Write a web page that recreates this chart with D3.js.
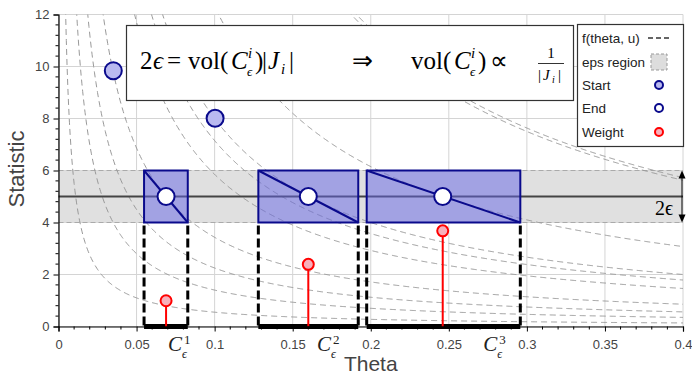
<!DOCTYPE html>
<html><head><meta charset="utf-8">
<script src="https://cdn.jsdelivr.net/npm/d3@7"></script>
<style>body{margin:0;background:#fff}svg{display:block}</style>
</head><body>
<svg id="chart" width="692" height="377"></svg>
<script>
// ---- data ----
const curveU = [0.055, 0.14, 0.225, 0.343, 0.585, 0.715, 0.80, 1.23, 2.25, 2.29]; // f(theta,u)=u/theta
const boxLeft = [0.0548, 0.128, 0.1974];
const boxRight = [0.0828, 0.192, 0.2958];
const endTheta = [0.0689, 0.160, 0.2461];
const endStat = [5, 5, 5];
const startTheta = [0.0351, 0.1003];
const startStat = [9.84, 8.01];
const weights = [0.99, 2.39, 3.68];
const cellLabels = ["1", "2", "3"];
const cellLabelTheta = [0.0702, 0.1655, 0.272];
const epsCenter = 5, epsLow = 4, epsHigh = 6;
const xTicks = [0, 0.05, 0.1, 0.15, 0.2, 0.25, 0.3, 0.35, 0.4];
const xTickLabels = ["0", "0.05", "0.1", "0.15", "0.2", "0.25", "0.3", "0.35", "0.4"];
const yTicks = [0, 2, 4, 6, 8, 10, 12];
const legendLabels = ["f(theta, u)", "eps region", "Start", "End", "Weight"];

// ---- layout ----
const svg = d3.select("#chart");
const X0 = 58.5, X1 = 683, Y0 = 326.5, Y1 = 14.5;
const x = d3.scaleLinear().domain([0, 0.4]).range([X0, X1]);
const y = d3.scaleLinear().domain([0, 12]).range([Y0, Y1]);
const navy = "#0a0a8c", boxFill = "rgb(100,100,230)", lav = "#b9b9f0", pink = "#f7b0bb";

svg.append("defs").append("clipPath").attr("id", "clip")
  .append("rect").attr("x", X0).attr("y", Y1).attr("width", X1 - X0).attr("height", Y0 - Y1);

// gridlines
const grid = svg.append("g").attr("stroke", "#d4d4d4").attr("stroke-width", 1);
xTicks.forEach(t => grid.append("line").attr("x1", x(t)).attr("x2", x(t)).attr("y1", Y1).attr("y2", Y0));
yTicks.forEach(t => grid.append("line").attr("x1", X0).attr("x2", X1).attr("y1", y(t)).attr("y2", y(t)));

// eps band
svg.append("rect").attr("x", X0).attr("width", X1 - X0).attr("y", y(epsHigh)).attr("height", y(epsLow) - y(epsHigh))
  .attr("fill", "#e0e0e0");
[epsLow, epsHigh].forEach(v => svg.append("line").attr("x1", X0).attr("x2", X1).attr("y1", y(v)).attr("y2", y(v))
  .attr("stroke", "#aaa").attr("stroke-width", 1.2).attr("stroke-dasharray", "5,3"));

// curves
const thetaGrid = d3.range(0.002, 0.4005, 0.0005);
const line = d3.line().x(d => x(d[0])).y(d => y(d[1]));
const cg = svg.append("g").attr("clip-path", "url(#clip)");
curveU.forEach(u => {
  const pts = thetaGrid.map(t => [t, u / t]).filter(p => p[1] < 14);
  cg.append("path").attr("d", line(pts)).attr("fill", "none").attr("stroke", "#999")
    .attr("stroke-width", 1).attr("stroke-dasharray", "6,4");
});

// center line
svg.append("line").attr("x1", X0).attr("x2", X1).attr("y1", y(epsCenter)).attr("y2", y(epsCenter))
  .attr("stroke", "#444").attr("stroke-width", 2);

// boxes
boxLeft.forEach((l, i) => {
  const r = boxRight[i];
  svg.append("rect").attr("x", x(l)).attr("y", y(epsHigh)).attr("width", x(r) - x(l)).attr("height", y(epsLow) - y(epsHigh))
    .attr("fill", boxFill).attr("fill-opacity", 0.5).attr("stroke", navy).attr("stroke-width", 2);
  svg.append("line").attr("x1", x(l)).attr("y1", y(epsHigh)).attr("x2", x(r)).attr("y2", y(epsLow))
    .attr("stroke", navy).attr("stroke-width", 2);
  [l, r].forEach(v => svg.append("line").attr("x1", x(v)).attr("x2", x(v)).attr("y1", y(epsLow) + 3).attr("y2", y(0))
    .attr("stroke", "#000").attr("stroke-width", 3).attr("stroke-dasharray", "9,4"));
  svg.append("line").attr("x1", x(l)).attr("x2", x(r)).attr("y1", y(0)).attr("y2", y(0))
    .attr("stroke", "#000").attr("stroke-width", 5);
});

// weights
weights.forEach((w, i) => {
  svg.append("line").attr("x1", x(endTheta[i])).attr("x2", x(endTheta[i])).attr("y1", y(0)).attr("y2", y(w))
    .attr("stroke", "red").attr("stroke-width", 2);
  svg.append("circle").attr("cx", x(endTheta[i])).attr("cy", y(w)).attr("r", 5.5)
    .attr("fill", pink).attr("stroke", "red").attr("stroke-width", 2);
});

// start / end
startTheta.forEach((t, i) => svg.append("circle").attr("cx", x(t)).attr("cy", y(startStat[i])).attr("r", 8.5)
  .attr("fill", lav).attr("stroke", navy).attr("stroke-width", 2));
endTheta.forEach((t, i) => svg.append("circle").attr("cx", x(t)).attr("cy", y(endStat[i])).attr("r", 8.5)
  .attr("fill", "#fff").attr("stroke", navy).attr("stroke-width", 2));

// axes
const axFont = "Liberation Sans, Arial, sans-serif";
const yAx = svg.append("g").attr("transform", `translate(${X0},0)`)
  .call(d3.axisLeft(y).tickValues(yTicks).tickSize(5).tickPadding(4).tickFormat(d3.format("d")));
const yMinor = d3.range(0, 12.001, 0.4).filter(v => Math.abs(v / 2 - Math.round(v / 2)) > 0.01);
yMinor.forEach(v => svg.append("line").attr("x1", X0 - 3).attr("x2", X0).attr("y1", y(v)).attr("y2", y(v)).attr("stroke", "#000"));
const xAx = svg.append("g").attr("transform", `translate(0,${Y0})`)
  .call(d3.axisBottom(x).tickValues(xTicks).tickSize(5).tickPadding(8).tickFormat((d, i) => xTickLabels[i]));
const xMinor = d3.range(0, 0.4001, 0.01).filter(v => Math.abs(v / 0.05 - Math.round(v / 0.05)) > 0.01);
xMinor.forEach(v => svg.append("line").attr("x1", x(v)).attr("x2", x(v)).attr("y1", Y0).attr("y2", Y0 + 3).attr("stroke", "#000"));
[yAx, xAx].forEach(a => {
  a.select(".domain").attr("stroke", "#000").attr("stroke-width", 1.2);
  a.selectAll("text").attr("font-family", axFont).attr("font-size", 13).attr("fill", "#444");
});

svg.append("text").attr("x", (X0 + X1) / 2).attr("y", 371).attr("text-anchor", "middle")
  .attr("font-family", axFont).attr("font-size", 21).attr("fill", "#444").text("Theta");
svg.append("text").attr("transform", `translate(24,169) rotate(-90)`).attr("text-anchor", "middle")
  .attr("font-family", axFont).attr("font-size", 22).attr("fill", "#444").text("Statistic");

// C_eps labels
const serif = "Liberation Serif, Times New Roman, serif";
cellLabelTheta.forEach((t, i) => {
  const cx = x(t);
  svg.append("text").attr("x", cx).attr("y", 351).attr("font-family", serif).attr("font-style", "italic")
    .attr("font-size", 21).attr("fill", "#222").text("C");
  svg.append("text").attr("x", cx + 16).attr("y", 344).attr("font-family", serif)
    .attr("font-size", 13).attr("fill", "#222").text(cellLabels[i]);
  svg.append("text").attr("x", cx + 14).attr("y", 358).attr("font-family", serif).attr("font-style", "italic")
    .attr("font-size", 12).attr("fill", "#222").text("ϵ");
});

// formula box
svg.append("rect").attr("x", 126.5).attr("y", 25.5).attr("width", 447).attr("height", 75)
  .attr("fill", "#fff").attr("stroke", "#333").attr("stroke-width", 1.2);
const F = svg.append("g").attr("font-family", serif).attr("fill", "#000");
function ft(xp, yp, s, size, ital) {
  F.append("text").attr("x", xp).attr("y", yp).attr("font-size", size)
    .attr("font-style", ital ? "italic" : "normal").text(s);
}
const bl = 69;
ft(140, bl, "2", 25); ft(153, bl, "ϵ", 25, true); ft(167, bl, "=", 25);
ft(188, bl, "vol(", 25); ft(231, bl, "C", 25, true); ft(248, bl - 11, "i", 15, true); ft(247, bl + 7, "ϵ", 13, true);
ft(255, bl, ")", 25); ft(262, bl, "|", 25); ft(268, bl, "J", 25, true); ft(281, bl + 5, "i", 15, true); ft(289, bl, "|", 25);
ft(352, bl, "⇒", 25);
ft(411, bl, "vol(", 25); ft(454, bl, "C", 25, true); ft(471, bl - 11, "i", 15, true); ft(470, bl + 7, "ϵ", 13, true);
ft(478, bl, ")", 25); ft(490, bl, "∝", 25);
F.append("text").attr("x", 551).attr("y", 58).attr("font-size", 15).attr("text-anchor", "middle").text("1");
F.append("line").attr("x1", 538).attr("x2", 564).attr("y1", 63.5).attr("y2", 63.5).attr("stroke", "#000").attr("stroke-width", 0.8);
ft(538, 80, "|", 15); ft(543, 80, "J", 15, true); ft(552, 83, "i", 10, true); ft(558, 80, "|", 15);

// legend
const L = svg.append("g");
L.append("rect").attr("x", 577.5).attr("y", 24.5).attr("width", 106).attr("height", 122)
  .attr("fill", "#fff").attr("stroke", "#333").attr("stroke-width", 1.2);
const ly = [38, 62, 85, 108, 132];
legendLabels.forEach((s, i) => L.append("text").attr("x", 582).attr("y", ly[i]).attr("dy", "0.35em")
  .attr("font-family", axFont).attr("font-size", 13.5).attr("fill", "#222").text(s));
L.append("line").attr("x1", 648).attr("x2", 671).attr("y1", ly[0]).attr("y2", ly[0])
  .attr("stroke", "#333").attr("stroke-width", 1.5).attr("stroke-dasharray", "5,3");
L.append("rect").attr("x", 651).attr("y", 54).attr("width", 16).attr("height", 16)
  .attr("fill", "#ddd").attr("stroke", "#999").attr("stroke-dasharray", "3,2");
[[lav, navy], ["#fff", navy], [pink, "red"]].forEach((c, i) => L.append("circle").attr("cx", 659).attr("cy", ly[i + 2])
  .attr("r", 4).attr("fill", c[0]).attr("stroke", c[1]).attr("stroke-width", 2));

// 2eps arrow
const ax = x(0.4) - 1;
svg.append("line").attr("x1", ax).attr("x2", ax).attr("y1", y(epsHigh) + 4).attr("y2", y(epsLow) - 4)
  .attr("stroke", "#000").attr("stroke-width", 1);
svg.append("path").attr("d", `M${ax},${y(epsHigh)} l-3.5,8 l7,0 Z`).attr("fill", "#000");
svg.append("path").attr("d", `M${ax},${y(epsLow)} l-3.5,-8 l7,0 Z`).attr("fill", "#000");
svg.append("text").attr("x", 673).attr("y", 215).attr("text-anchor", "end").attr("font-family", serif)
  .attr("font-size", 20).text("2ϵ");
</script>
</body></html>
